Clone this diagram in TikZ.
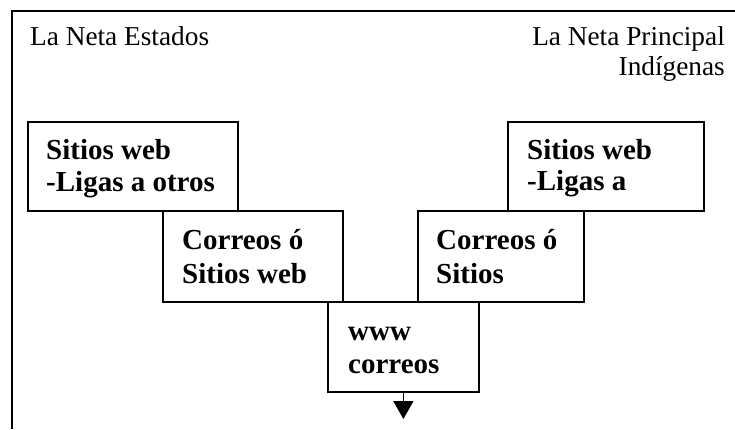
\documentclass[tikz,border=0pt]{standalone}
\usepackage{fontspec}
\setmainfont{Liberation Serif}
\usetikzlibrary{arrows.meta,calc}
\tikzset{
  box/.style={draw=black, line width=1.8pt, rectangle, inner sep=0pt, anchor=north west},
  reg/.style={font=\fontsize{27.3}{30}\selectfont, inner sep=0pt},
  bld/.style={font=\bfseries\fontsize{29}{33}\selectfont, inner sep=0pt, anchor=base west},
  frame/.style={line width=2pt},
  conn/.style={line width=1.6pt, -{Triangle[width=20pt,length=18pt]}}
}
\begin{document}
\begin{tikzpicture}[x=1pt,y=-1pt]
\useasboundingbox (0,0) rectangle (735,429);
% frame
\coordinate (fl) at (11.5,429);
\coordinate (ftl) at (11.5,11);
\coordinate (ftr) at (735,11);
\draw[frame] (fl) -- (ftl) -- (ftr);
% headers
\node[reg, anchor=base west] (h1) at (30,45) {La Neta Estados};
\node[reg, anchor=base east] (h2) at (725,45) {La Neta Principal};
\node[reg, anchor=base east] (h3) at (725,75) {Indígenas};
% boxes
\node[box, minimum width=210pt, minimum height=89pt] (b1) at (27,121) {};
\node[box, minimum width=196pt, minimum height=89pt] (b3) at (507,121) {};
\node[box, minimum width=180pt, minimum height=91pt] (b2) at (162,210) {};
\node[box, minimum width=166pt, minimum height=91pt] (b4) at (417,210) {};
\node[box, minimum width=151pt, minimum height=90pt] (b5) at (327,301) {};
% texts
\node[bld] (t1a) at ($(b1.north west)+(19,38)$) {Sitios web};
\node[bld] (t1b) at ($(b1.north west)+(19,70)$) {-Ligas a otros};
\node[bld] (t3a) at ($(b3.north west)+(20,38)$) {Sitios web};
\node[bld] (t3b) at ($(b3.north west)+(20,69)$) {-Ligas a};
\node[bld] (t2a) at ($(b2.north west)+(20,39)$) {Correos ó};
\node[bld] (t2b) at ($(b2.north west)+(20,73)$) {Sitios web};
\node[bld] (t4a) at ($(b4.north west)+(19,39)$) {Correos ó};
\node[bld] (t4b) at ($(b4.north west)+(19,73)$) {Sitios};
\node[bld] (t5a) at ($(b5.north west)+(21,39)$) {www};
\node[bld] (t5b) at ($(b5.north west)+(21,72)$) {correos};
% arrow
\coordinate (aend) at (b5.south |- 0,419);
\draw[conn] (b5.south) -- (aend);
\end{tikzpicture}
\end{document}
